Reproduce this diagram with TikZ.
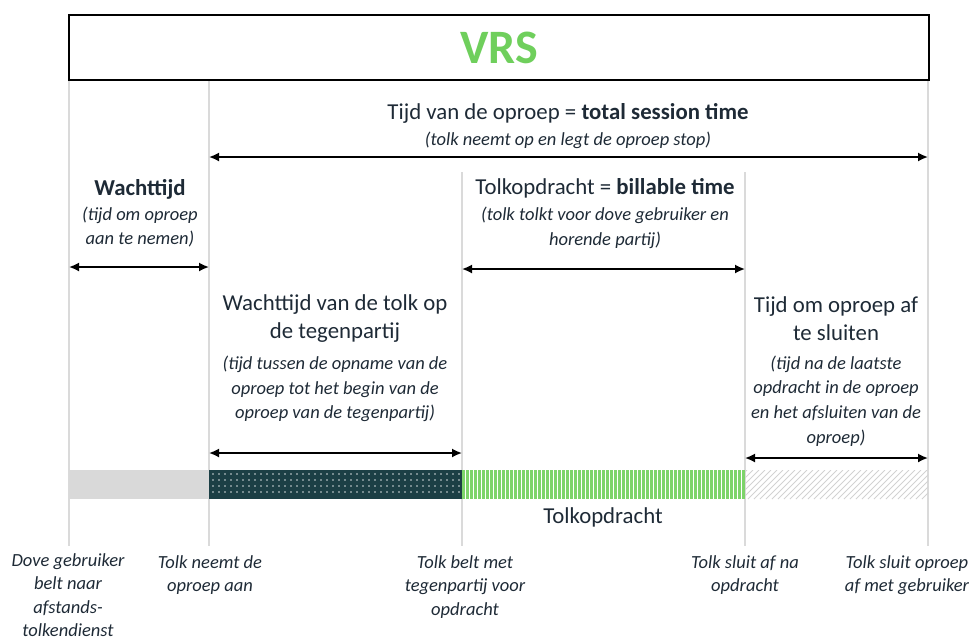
\documentclass[tikz,border=0pt]{standalone}
\usepackage{fontspec}
\setmainfont{Carlito}
\usetikzlibrary{arrows.meta, positioning}
\definecolor{vrsgreen}{HTML}{6FCF5C}
\definecolor{barteal}{HTML}{1C3F45}
\definecolor{bargreen}{HTML}{7DD46A}
\definecolor{bargray}{HTML}{D9D9D9}
\definecolor{hatchgray}{HTML}{D2D2D2}
\definecolor{guidegray}{HTML}{DADADA}
\definecolor{labeltext}{HTML}{1E2A36}

\tikzset{
  guide/.style={draw=guidegray, line width=1.3pt},
  span/.style={{Latex[length=10pt,width=9pt]}-{Latex[length=10pt,width=9pt]}, line width=1.7pt, black},
  heading/.style={align=center, font=\fontsize{22.8}{28}\selectfont, text=labeltext, inner sep=0pt},
  remark/.style={align=center, font=\fontsize{18.5}{24.8}\selectfont\itshape, text=labeltext, inner sep=0pt},
  event/.style={align=center, font=\fontsize{18.5}{23.5}\selectfont\itshape, text=labeltext, inner sep=0pt},
}

\begin{document}
\begin{tikzpicture}[x=1pt, y=-1pt]
    \useasboundingbox (0,0) rectangle (970,641);

    % Title
    \node (title) [draw, line width=2.5pt, minimum width=860pt, minimum height=65pt, text=vrsgreen, font=\fontsize{48}{48}\selectfont\bfseries] at (499,47.5) {VRS};

    % Guide lines
    \draw [guide] (69,81) -- (69,546);
    \draw [guide] (209,81) -- (209,546);
    \draw [guide] (462,172) -- (462,546);
    \draw [guide] (745,172) -- (745,546);
    \draw [guide] (928,81) -- (928,546);

    % Labels
    \node (total) [heading] at (568,113) {Tijd van de oproep = \textbf{total session time}};
    \node (totalnote) [remark] at (568,140) {(tolk neemt op en legt de oproep stop)};
    \node (wait) [heading, font=\fontsize{22.8}{28}\selectfont\bfseries] at (140,189) {Wachttijd};
    \node (waitnote) [remark] at (140,227) {(tijd om oproep\\aan te nemen)};
    \node (billable) [heading] at (605,188) {Tolkopdracht = \textbf{billable time}};
    \node (billablenote) [remark] at (605,227.5) {(tolk tolkt voor dove gebruiker en\\horende partij)};
    \node (hold) [heading] at (335,319) {Wachttijd van de tolk op\\de tegenpartij};
    \node (holdnote) [remark] at (335,389) {(tijd tussen de opname van de\\oproep tot het begin van de\\oproep van de tegenpartij)};
    \node (close) [heading] at (836,319) {Tijd om oproep af\\te sluiten};
    \node (closenote) [remark] at (836,401) {(tijd na de laatste\\opdracht in de oproep\\en het afsluiten van de\\oproep)};

    % Span ends
    \coordinate (totalA) at (209,157);
    \coordinate (totalB) at (928,157);
    \coordinate (waitA) at (69,267);
    \coordinate (waitB) at (209,267);
    \coordinate (billA) at (462,269);
    \coordinate (billB) at (745,269);
    \coordinate (holdA) at (209,453);
    \coordinate (holdB) at (462,453);
    \coordinate (closeA) at (745,458);
    \coordinate (closeB) at (928,458);

    % Arrows
    \draw [span] (totalA) -- (totalB);
    \draw [span] (waitA) -- (waitB);
    \draw [span] (billA) -- (billB);
    \draw [span] (holdA) -- (holdB);
    \draw [span] (closeA) -- (closeB);

    % Bar
    \fill [bargray] (69,470) rectangle (209,499);
    \fill [barteal] (209,470) rectangle (462,499);
    \foreach \x in {213,219,...,459}
        \foreach \y in {474,480,...,496}
            \fill [white!80!barteal] (\x,\y) circle (0.85pt);
    \fill [bargreen] (462,470) rectangle (745,499);
    \foreach \x in {465,469,...,743}
        \draw [white, line width=0.8pt] (\x,470) -- (\x,499);
    \begin{scope}
        \clip (745,470) rectangle (928,499);
        \foreach \x in {712,718,...,928}
            \draw [hatchgray, line width=0.8pt] (\x,499) -- ++(29,-29);
    \end{scope}
    \node (job) [heading] at (603,517) {Tolkopdracht};

    % Events
    \node (call) [event] at (68,595) {Dove gebruiker\\belt naar\\afstands-\\tolkendienst};
    \node (pickup) [event] at (210,575) {Tolk neemt de\\oproep aan};
    \node (dial) [event] at (465,587) {Tolk belt met\\tegenpartij voor\\opdracht};
    \node (done) [event] at (745,575) {Tolk sluit af na\\opdracht};
    \node (hangup) [event] at (907,575) {Tolk sluit oproep\\af met gebruiker};
\end{tikzpicture}
\end{document}
